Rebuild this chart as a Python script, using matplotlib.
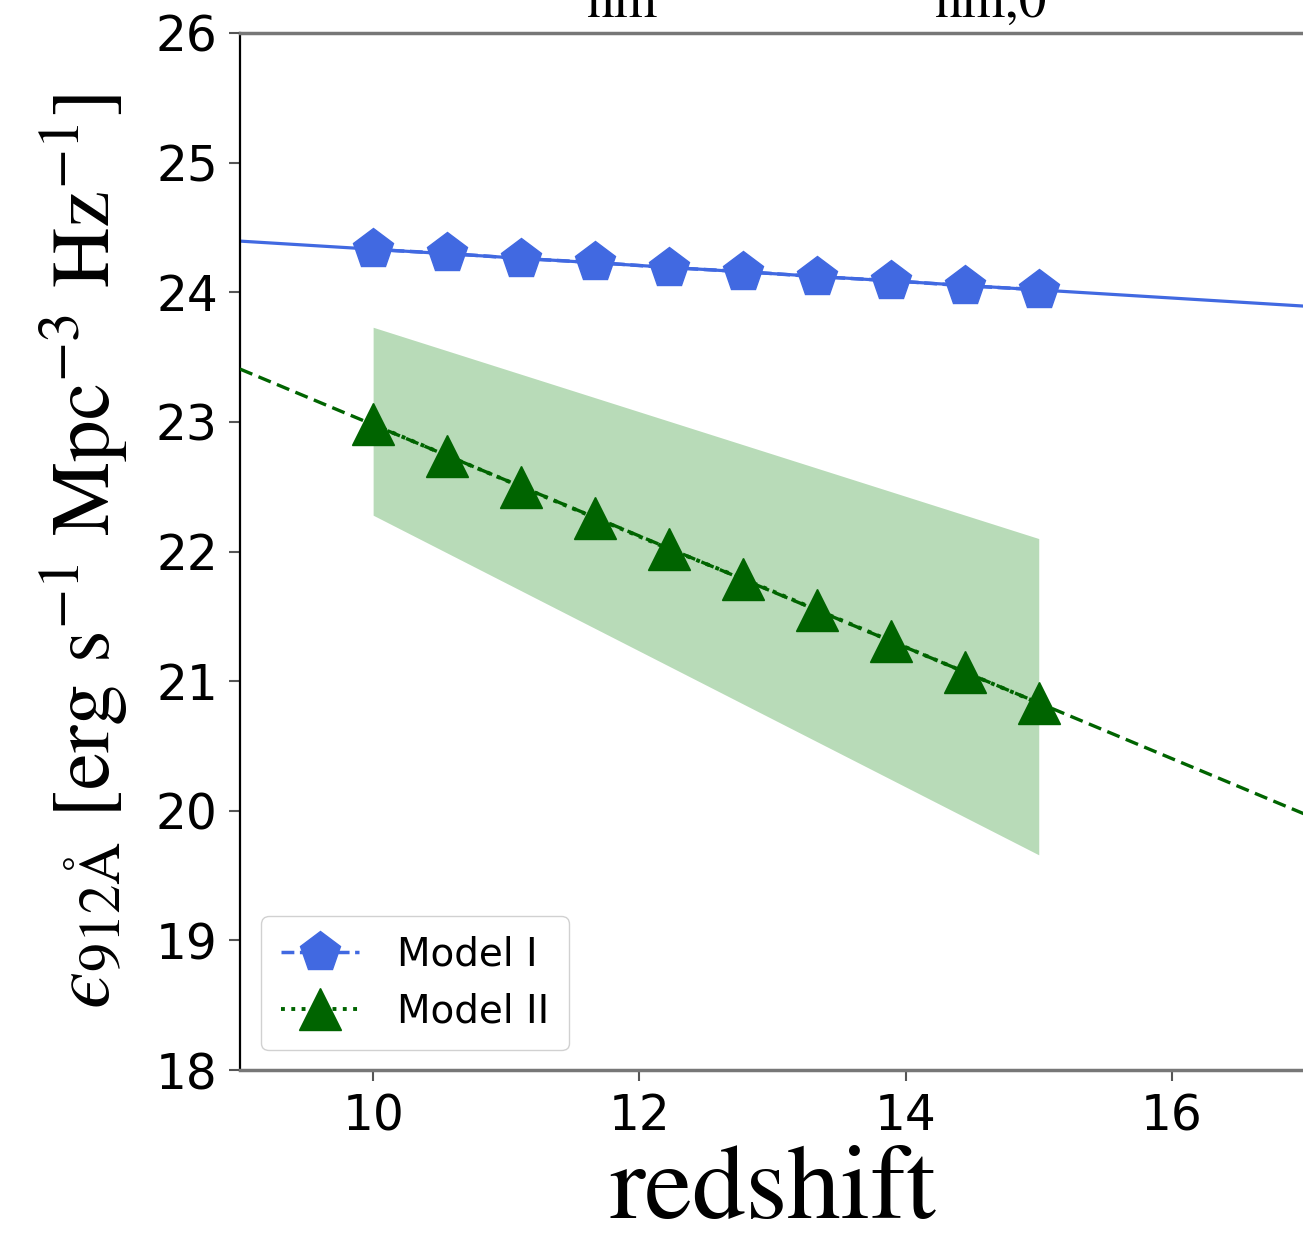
import numpy as np
import matplotlib
matplotlib.use("Agg")
import matplotlib.pyplot as plt

# ---- data ----
redshift = [10.0, 10.556, 11.111, 11.667, 12.222, 12.778, 13.333, 13.889, 14.444, 15.0]
model_I = [24.33, 24.30, 24.26, 24.23, 24.19, 24.16, 24.12, 24.09, 24.05, 24.02]
model_II = [22.98, 22.74, 22.50, 22.26, 22.02, 21.79, 21.55, 21.31, 21.07, 20.83]
band_z = [10.0, 15.0]
band_upper = [23.73, 22.10]
band_lower = [22.28, 19.66]
fit_z = [9.0, 17.0]
xticks = [10, 12, 14, 16]
yticks = [18, 19, 20, 21, 22, 23, 24, 25, 26]

plt.rcParams['mathtext.fontset'] = 'stix'

W, H = 1303, 1249
fig = plt.figure(figsize=(W / 100, H / 100), dpi=100)
ax = fig.add_axes([240 / W, 1 - 1070 / H, (1305 - 240) / W, (1070 - 33) / H])

# fit lines from the marker data
pI = np.polyfit(redshift, model_I, 1)
pII = np.polyfit(redshift, model_II, 1)
ax.plot(fit_z, np.polyval(pI, fit_z), '-', color='royalblue', lw=2.3, zorder=2)

ax.fill_between(band_z, band_lower, band_upper, color='green', alpha=0.28,
                linewidth=0, zorder=1)

ax.plot(redshift, model_I, linestyle='--', marker='p', color='royalblue',
        markersize=30, lw=2.5, label='Model I', zorder=3)
ax.plot(redshift, model_II, linestyle=':', marker='^', color='darkgreen',
        markersize=30, lw=2.8, label='Model II', zorder=3)
ax.plot(fit_z, np.polyval(pII, fit_z), color='darkgreen', lw=2.4, zorder=4,
        dashes=(4, 2))

ax.set_xlim(9, 17)
ax.set_ylim(18, 26)
ax.set_xticks(xticks)
ax.set_yticks(yticks)
ax.tick_params(axis='both', labelsize=35, length=8, width=1.5, direction='out',
               pad=8, color='#555555')
for s in ['top', 'bottom']:
    ax.spines[s].set_color('#777777')
    ax.spines[s].set_linewidth(2.5)
ax.spines['left'].set_color('black')
ax.spines['left'].set_linewidth(1.6)
ax.spines['right'].set_visible(False)

ax.set_xlabel('redshift', fontsize=77, family='STIXGeneral', labelpad=4)
ax.set_ylabel('$\u03f5_{\\mathrm{912\\AA}}$ [erg s$^{-1}$ Mpc$^{-3}$ Hz$^{-1}$]',
              fontsize=60, family='STIXGeneral', labelpad=18)

leg = ax.legend(loc='lower left', fontsize=28, handlelength=2.0,
                borderpad=0.5, labelspacing=0.5, handletextpad=1.0,
                borderaxespad=0.0, bbox_to_anchor=(0.02, 0.019),
                framealpha=0.9)

# cut-off text from the panel above
fig.text(622 / W, 1 - 17 / H, 'nm', fontsize=40, family='STIXGeneral',
         ha='center', va='baseline')
fig.text(990 / W, 1 - 17 / H, 'nm,0', fontsize=40, family='STIXGeneral',
         ha='center', va='baseline')

fig.savefig('out.png', dpi=100)
